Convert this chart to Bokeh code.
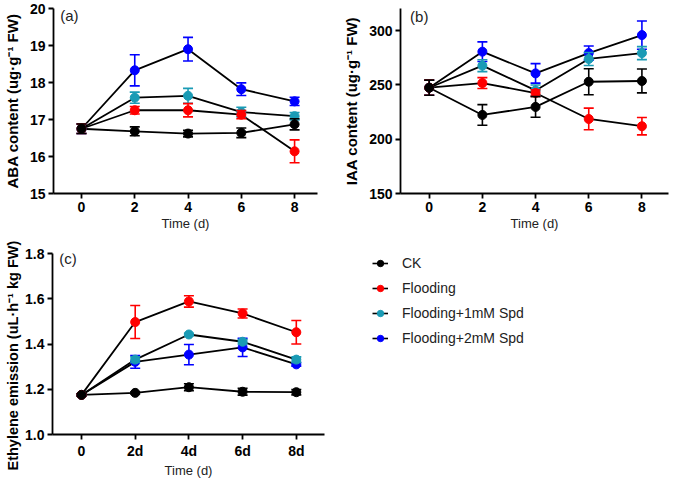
from bokeh.plotting import figure
from bokeh.layouts import column, row
from bokeh.models import FixedTicker, Range1d, Label, Legend, LegendItem, PrintfTickFormatter, Title
from bokeh.embed import file_html
from bokeh.resources import INLINE

# ---------------- data ----------------
days = [0, 2, 4, 6, 8]
series_names = ["CK", "Flooding", "Flooding+1mM Spd", "Flooding+2mM Spd"]
series_colors = ["#000000", "#ff0000", "#1a9bb5", "#0000ff"]

aba_ck = [16.75, 16.68, 16.62, 16.64, 16.87]
aba_ck_err = [0.13, 0.12, 0.09, 0.13, 0.15]
aba_fl = [16.75, 17.25, 17.25, 17.13, 16.14]
aba_fl_err = [0.13, 0.10, 0.18, 0.11, 0.31]
aba_s1 = [16.75, 17.59, 17.64, 17.20, 17.09]
aba_s1_err = [0.13, 0.15, 0.20, 0.13, 0.10]
aba_s2 = [16.75, 18.33, 18.90, 17.82, 17.49]
aba_s2_err = [0.13, 0.42, 0.32, 0.17, 0.11]

iaa_ck = [247.5, 222.4, 229.8, 253.0, 253.7]
iaa_ck_err = [7.0, 9.5, 9.5, 12.0, 11.0]
iaa_fl = [247.5, 251.8, 242.6, 218.7, 212.0]
iaa_fl_err = [7.0, 5.0, 3.0, 10.0, 8.0]
iaa_s1 = [247.5, 267.8, 245.0, 274.0, 279.4]
iaa_s1_err = [7.0, 5.5, 5.0, 6.0, 6.0]
iaa_s2 = [247.5, 280.7, 260.7, 279.4, 296.0]
iaa_s2_err = [7.0, 9.0, 9.0, 6.5, 13.0]

eth_ck = [1.175, 1.184, 1.209, 1.189, 1.187]
eth_ck_err = [0.005, 0.005, 0.015, 0.015, 0.012]
eth_fl = [1.175, 1.497, 1.588, 1.535, 1.452]
eth_fl_err = [0.005, 0.073, 0.025, 0.020, 0.052]
eth_s1 = [1.175, 1.331, 1.442, 1.410, 1.331]
eth_s1_err = [0.005, 0.012, 0.005, 0.010, 0.012]
eth_s2 = [1.175, 1.321, 1.353, 1.385, 1.310]
eth_s2_err = [0.005, 0.028, 0.045, 0.040, 0.008]

aba_ticks = [15, 16, 17, 18, 19, 20]
iaa_ticks = [150, 200, 250, 300]
eth_ticks = [1.0, 1.2, 1.4, 1.6, 1.8]
eth_x_labels = ["0", "2d", "4d", "6d", "8d"]

FONT = "Liberation Sans"


def style(p, xticks, yticks, ylabel):
    p.xgrid.visible = False
    p.ygrid.visible = False
    p.outline_line_color = None
    p.xaxis.ticker = FixedTicker(ticks=xticks)
    p.yaxis.ticker = FixedTicker(ticks=yticks)
    for ax in (p.xaxis, p.yaxis):
        ax.axis_line_width = 1.8
        ax.axis_line_color = "black"
        ax.major_tick_line_width = 1.8
        ax.major_tick_line_color = "black"
        ax.major_tick_out = 5
        ax.major_tick_in = 0
        ax.minor_tick_out = 0
        ax.minor_tick_in = 0
        ax.major_label_text_font = FONT
        ax.major_label_text_font_style = "bold"
        ax.major_label_text_font_size = "14px"
        ax.major_label_text_color = "black"
        ax.major_label_standoff = 3
    p.xaxis.axis_label = "Time (d)"
    p.xaxis.axis_label_text_font = FONT
    p.xaxis.axis_label_text_font_style = "normal"
    p.xaxis.axis_label_text_font_size = "13px"
    p.xaxis.axis_label_text_color = "#222222"
    p.xaxis.axis_label_standoff = 1
    if ylabel:
        p.yaxis.axis_label = ylabel
        p.yaxis.axis_label_text_font = FONT
        p.yaxis.axis_label_text_font_style = "bold"
        p.yaxis.axis_label_text_font_size = "15px"
        p.yaxis.axis_label_text_color = "black"
        p.yaxis.axis_label_standoff = 6


def draw_series(p, vals_list, errs_list):
    for vals in vals_list:
        p.line(days, vals, line_color="black", line_width=1.8)
    for i in [3, 2, 1, 0]:
        vals = vals_list[i]
        errs = errs_list[i]
        c = series_colors[i]
        up = [v + e for v, e in zip(vals, errs)]
        lo = [v - e for v, e in zip(vals, errs)]
        p.segment(x0=days, y0=lo, x1=days, y1=up, line_color=c, line_width=1.6)
        p.scatter(days, up, marker="dash", size=10, line_color=c, line_width=1.6)
        p.scatter(days, lo, marker="dash", size=10, line_color=c, line_width=1.6)
        p.scatter(days, vals, marker="circle", size=9, fill_color=c, line_color=c)


# ---------------- panel a ----------------
pa = figure(width=340, height=233, output_backend="svg", toolbar_location=None,
            x_range=Range1d(-1.05, 8.86), y_range=Range1d(15, 20),
            min_border_left=48, min_border_right=23, min_border_top=8, min_border_bottom=30)
style(pa, days, aba_ticks, "ABA content (ug·g⁻¹ FW)")
draw_series(pa, [aba_ck, aba_fl, aba_s1, aba_s2], [aba_ck_err, aba_fl_err, aba_s1_err, aba_s2_err])
pa.add_layout(Label(x=-0.8, y=19.8, text="(a)", text_font=FONT, text_font_size="15px",
                    text_baseline="middle", text_align="left", text_color="#222222"))

# ---------------- panel b ----------------
pb = figure(width=329, height=233, output_backend="svg", toolbar_location=None,
            x_range=Range1d(-1.08, 9.0), y_range=Range1d(150, 320.5),
            min_border_left=54, min_border_right=1, min_border_top=8, min_border_bottom=30)
style(pb, days, iaa_ticks, "IAA content (ug·g⁻¹ FW)")
draw_series(pb, [iaa_ck, iaa_fl, iaa_s1, iaa_s2], [iaa_ck_err, iaa_fl_err, iaa_s1_err, iaa_s2_err])
pb.add_layout(Label(x=-0.72, y=313, text="(b)", text_font=FONT, text_font_size="15px",
                    text_baseline="middle", text_align="left", text_color="#222222"))

# ---------------- panel c ----------------
pc = figure(width=340, height=247, output_backend="svg", toolbar_location=None,
            x_range=Range1d(-1.08, 9.05), y_range=Range1d(1.0, 1.8),
            min_border_left=48, min_border_right=16, min_border_top=12, min_border_bottom=30)
style(pc, days, eth_ticks, None)
pc.yaxis.formatter = PrintfTickFormatter(format="%.1f")
pc.xaxis.major_label_overrides = {d: lab for d, lab in zip(days, eth_x_labels)}
draw_series(pc, [eth_ck, eth_fl, eth_s1, eth_s2], [eth_ck_err, eth_fl_err, eth_s1_err, eth_s2_err])
pc.add_layout(Label(x=-0.83, y=1.78, text="(c)", text_font=FONT, text_font_size="15px",
                    text_baseline="middle", text_align="left", text_color="#222222"))
# long y-axis title: a side title anchored below the frame so that it stays inside the canvas
pc.add_layout(Title(text="Ethylene emission (uL·h⁻¹ kg FW)", align="left", offset=-36,
                    text_font=FONT, text_font_style="bold", text_font_size="14.5px",
                    text_color="black", standoff=4), "left")

# ---------------- legend ----------------
pl = figure(width=329, height=247, output_backend="svg", toolbar_location=None,
            x_range=Range1d(0, 1), y_range=Range1d(0, 1),
            min_border_left=32, min_border_top=20, min_border_right=0, min_border_bottom=0)
pl.axis.visible = False
pl.grid.visible = False
pl.outline_line_color = None
items = []
for name, c in zip(series_names, series_colors):
    lr = pl.line([-5, -4], [-5, -4], line_color="black", line_width=1.6)
    sr = pl.scatter([-5], [-5], marker="circle", size=8, fill_color=c, line_color=c)
    items.append(LegendItem(label=name, renderers=[lr, sr]))
leg = Legend(items=items, location="top_left", margin=0, padding=0,
             border_line_color=None, background_fill_alpha=0,
             glyph_width=16, glyph_height=20, label_height=20, label_standoff=14,
             spacing=5, label_text_font=FONT, label_text_font_size="14px",
             label_text_color="#222222")
pl.add_layout(leg)

layout = column(row(pa, pb), row(pc, pl))
open("out.html", "w").write(file_html(layout, INLINE))
